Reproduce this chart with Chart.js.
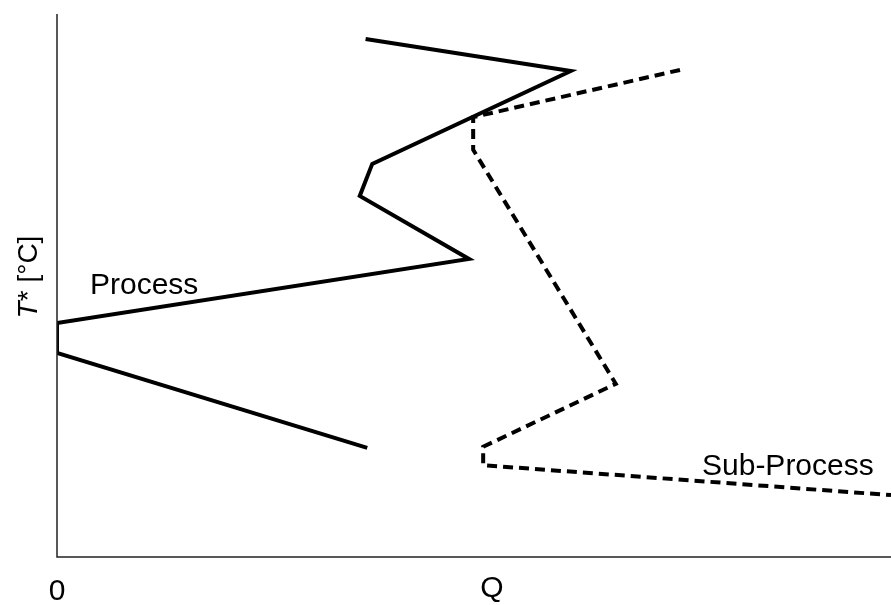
<!DOCTYPE html>
<html>
<head>
<meta charset="utf-8">
<script src="https://cdn.jsdelivr.net/npm/chart.js@4"></script>
<style>
  html, body { margin: 0; padding: 0; background: #fff; }
  #wrap { width: 891px; height: 605px; }
</style>
</head>
<body>
<div id="wrap"><canvas id="curve"></canvas></div>
<script>
// heat (Q) and shifted temperature (T*) for each curve, 0-100 units
const processQ = [37.0, 61.6, 37.8, 36.3, 49.4, 0, 0, 37.2];
const processT = [95.4, 89.5, 72.4, 66.5, 54.9, 43.1, 37.6, 20.1];
const subQ = [74.7, 49.9, 49.9, 67.0, 51.1, 51.1, 100];
const subT = [89.7, 81.0, 75.0, 31.9, 20.3, 16.9, 11.4];
const xTickLabels = ['0'];

const toPts = (xs, ys) => xs.map((x, i) => ({ x, y: ys[i] }));
const FONT = '"Liberation Sans", Arial, sans-serif';

const decor = {
  id: 'decor',
  afterDatasetsDraw(chart) {
    const { ctx, chartArea: a, scales } = chart;
    ctx.save();
    // axis lines
    ctx.strokeStyle = '#222';
    ctx.lineWidth = 1.5;
    ctx.beginPath();
    ctx.moveTo(a.left, a.top);
    ctx.lineTo(a.left, a.bottom);
    ctx.lineTo(a.right, a.bottom);
    ctx.stroke();

    ctx.fillStyle = '#000';
    ctx.font = '30px ' + FONT;
    ctx.textAlign = 'center';
    ctx.textBaseline = 'middle';
    ctx.fillText(xTickLabels[0], scales.x.getPixelForValue(0), 592);
    ctx.fillText('Q', 492, 589);

    // curve names
    ctx.textAlign = 'left';
    ctx.textBaseline = 'alphabetic';
    ctx.fillText('Process', 90, 294);
    ctx.fillText('Sub-Process', 702, 475);

    // y title, T* in italics
    ctx.translate(29, 277);
    ctx.rotate(-Math.PI / 2);
    const it = 'italic 28px ' + FONT, rg = '28px ' + FONT;
    ctx.font = it;
    const w1 = ctx.measureText('T').width;
    ctx.font = rg;
    const w2 = ctx.measureText('* [°C]').width;
    let x0 = -(w1 + w2) / 2;
    ctx.textBaseline = 'middle';
    ctx.font = it;
    ctx.fillText('T', x0, 0);
    ctx.font = rg;
    ctx.fillText('* [°C]', x0 + w1, 0);
    ctx.restore();
  }
};

new Chart(document.getElementById('curve'), {
  type: 'scatter',
  data: {
    datasets: [
      {
        label: 'Process',
        data: toPts(processQ, processT),
        showLine: true,
        borderColor: '#000',
        borderWidth: 4,
        borderJoinStyle: 'miter',
        pointRadius: 0,
        tension: 0
      },
      {
        label: 'Sub-Process',
        data: toPts(subQ, subT),
        showLine: true,
        borderColor: '#000',
        borderWidth: 4,
        borderDash: [10, 6],
        borderJoinStyle: 'miter',
        pointRadius: 0,
        tension: 0
      }
    ]
  },
  options: {
    responsive: true,
    maintainAspectRatio: false,
    animation: false,
    layout: { padding: { left: 57, top: 14, right: 0, bottom: 48 } },
    plugins: { legend: { display: false }, tooltip: { enabled: false } },
    scales: {
      x: { type: 'linear', min: 0, max: 100, display: false },
      y: { type: 'linear', min: 0, max: 100, display: false }
    }
  },
  plugins: [decor]
});
</script>
</body>
</html>
